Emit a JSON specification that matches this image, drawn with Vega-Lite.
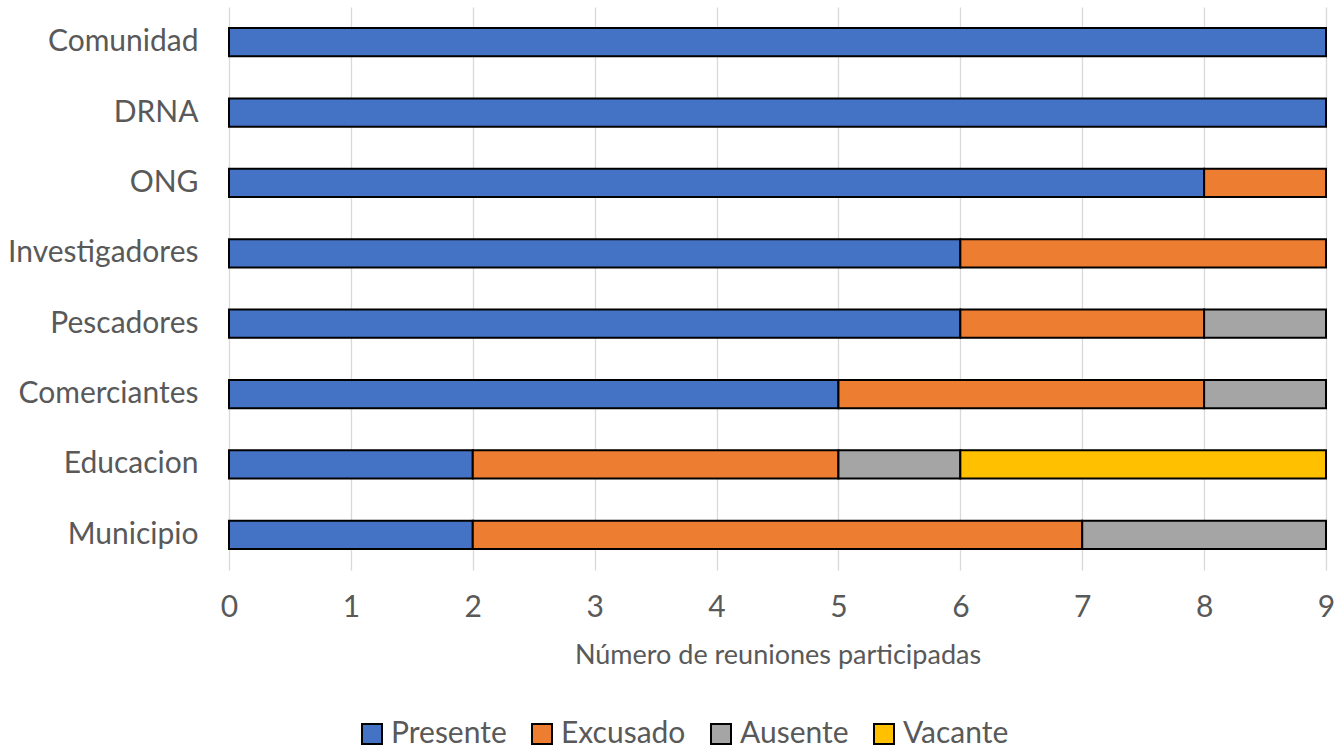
{
  "$schema": "https://vega.github.io/schema/vega-lite/v6.json",
  "autosize": "none",
  "width": 1097,
  "height": 563,
  "padding": {"left": 229, "top": 7, "right": 17, "bottom": 178},
  "background": "white",
  "config": {
    "view": {"stroke": null},
    "font": "Lato"
  },
  "data": {
    "values": [
      {"grupo": "Comunidad", "estado": "Presente", "n": 9, "o": 1},
      {"grupo": "DRNA", "estado": "Presente", "n": 9, "o": 1},
      {"grupo": "ONG", "estado": "Presente", "n": 8, "o": 1},
      {"grupo": "ONG", "estado": "Excusado", "n": 1, "o": 2},
      {"grupo": "Investigadores", "estado": "Presente", "n": 6, "o": 1},
      {"grupo": "Investigadores", "estado": "Excusado", "n": 3, "o": 2},
      {"grupo": "Pescadores", "estado": "Presente", "n": 6, "o": 1},
      {"grupo": "Pescadores", "estado": "Excusado", "n": 2, "o": 2},
      {"grupo": "Pescadores", "estado": "Ausente", "n": 1, "o": 3},
      {"grupo": "Comerciantes", "estado": "Presente", "n": 5, "o": 1},
      {"grupo": "Comerciantes", "estado": "Excusado", "n": 3, "o": 2},
      {"grupo": "Comerciantes", "estado": "Ausente", "n": 1, "o": 3},
      {"grupo": "Educacion", "estado": "Presente", "n": 2, "o": 1},
      {"grupo": "Educacion", "estado": "Excusado", "n": 3, "o": 2},
      {"grupo": "Educacion", "estado": "Ausente", "n": 1, "o": 3},
      {"grupo": "Educacion", "estado": "Vacante", "n": 3, "o": 4},
      {"grupo": "Municipio", "estado": "Presente", "n": 2, "o": 1},
      {"grupo": "Municipio", "estado": "Excusado", "n": 5, "o": 2},
      {"grupo": "Municipio", "estado": "Ausente", "n": 2, "o": 3}
    ]
  },
  "mark": {"type": "bar", "stroke": "black", "strokeWidth": 2},
  "encoding": {
    "y": {
      "field": "grupo",
      "type": "nominal",
      "sort": ["Comunidad", "DRNA", "ONG", "Investigadores", "Pescadores", "Comerciantes", "Educacion", "Municipio"],
      "scale": {"paddingInner": 0.6, "paddingOuter": 0.3},
      "axis": {
        "title": null,
        "domain": false,
        "ticks": false,
        "labelFontSize": 30,
        "labelLimit": 300,
        "labelColor": "#595959",
        "labelPadding": 31
      }
    },
    "x": {
      "field": "n",
      "type": "quantitative",
      "stack": "zero",
      "scale": {"domain": [0, 9], "nice": false},
      "axis": {
        "title": "Número de reuniones participadas",
        "titleFontSize": 27,
        "titleFontWeight": "normal",
        "titleColor": "#595959",
        "titlePadding": 20,
        "values": [0, 1, 2, 3, 4, 5, 6, 7, 8, 9],
        "labelOverlap": false,
        "labelFlush": false,
        "domain": false,
        "ticks": false,
        "grid": true,
        "gridColor": "#D9D9D9",
        "gridWidth": 1.3,
        "labelFontSize": 30,
        "labelColor": "#595959",
        "labelPadding": 22
      }
    },
    "color": {
      "field": "estado",
      "type": "nominal",
      "scale": {
        "domain": ["Presente", "Excusado", "Ausente", "Vacante"],
        "range": ["#4472C4", "#ED7D31", "#A5A5A5", "#FFC000"]
      },
      "legend": {
        "title": null,
        "orient": "none",
        "direction": "horizontal",
        "legendX": 128,
        "legendY": 712,
        "symbolType": "square",
        "symbolSize": 400,
        "symbolStrokeColor": "black",
        "symbolStrokeWidth": 2,
        "labelFontSize": 30,
        "labelColor": "#595959",
        "labelOffset": 4,
        "columnPadding": 20
      }
    },
    "order": {"field": "o", "type": "quantitative"}
  }
}
